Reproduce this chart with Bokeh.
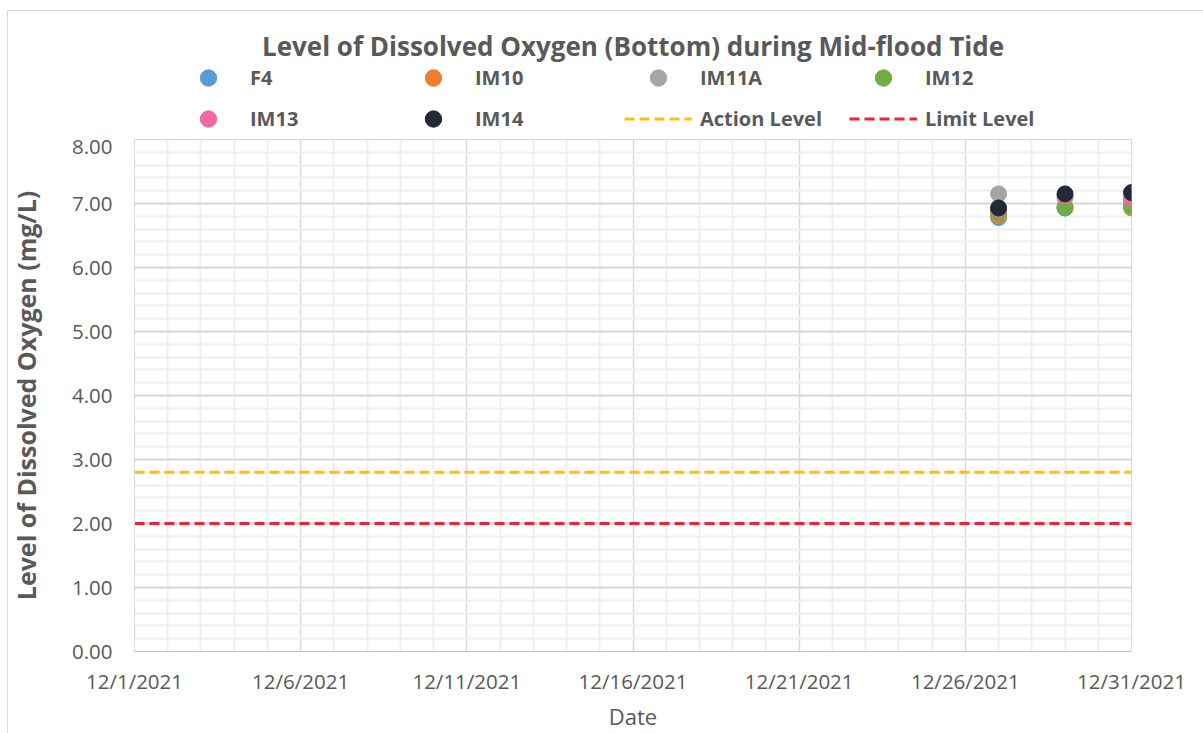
from datetime import datetime
from bokeh.plotting import figure
from bokeh.layouts import column
from bokeh.models import (Range1d, FixedTicker, NumeralTickFormatter, Legend,
                          LegendItem, Label)
from bokeh.embed import file_html
from bokeh.resources import INLINE

# ---------------- data ----------------
sample_dates = ["2021-12-27", "2021-12-29", "2021-12-31"]
F4 = [6.78, 6.93, 6.96]
IM10 = [6.81, 6.95, 6.93]
IM11A = [7.15, 7.09, 7.02]
IM12 = [6.85, 6.93, 6.95]
IM13 = [6.91, 7.12, 7.08]
IM14 = [6.93, 7.15, 7.17]
action_level = 2.8
limit_level = 2.0
period = ["2021-12-01", "2021-12-31"]
tick_dates = ["2021-12-01", "2021-12-06", "2021-12-11", "2021-12-16",
              "2021-12-21", "2021-12-26", "2021-12-31"]
tick_labels = ["12/1/2021", "12/6/2021", "12/11/2021", "12/16/2021",
               "12/21/2021", "12/26/2021", "12/31/2021"]
y_ticks = [0, 1, 2, 3, 4, 5, 6, 7, 8]

series = [("F4", F4, "#5B9BD5"), ("IM10", IM10, "#ED7D31"),
          ("IM11A", IM11A, "#A5A5A5"), ("IM12", IM12, "#70AD47"),
          ("IM13", IM13, "#F06A9E"), ("IM14", IM14, "#222A35")]
ACTION_COLOR = "#FFC000"
LIMIT_COLOR = "#F5222D"


def ms(s):
    return datetime.strptime(s, "%Y-%m-%d").timestamp() * 1000.0


DAY = 86400000.0
xs = [ms(d) for d in sample_dates]
x0, x1 = ms(period[0]), ms(period[1])

FONT = "Open Sans"
GREY = "#595959"
W = 1203
HEAD_H = 139
MAIN_H = 594
ML, MR = 134, 72

# ---------------- header (title + legend) ----------------
head = figure(width=W, height=HEAD_H, output_backend="svg", toolbar_location=None,
              x_range=Range1d(0, 1), y_range=Range1d(0, 1),
              x_axis_type=None, y_axis_type=None,
              min_border_left=ML, min_border_right=MR, min_border_top=0,
              min_border_bottom=0)
head.grid.visible = False
head.outline_line_color = None
head.border_fill_alpha = 0
head.background_fill_alpha = 0

frame_w = W - ML - MR
head.add_layout(Label(x=frame_w / 2, y=HEAD_H - 45, x_units="screen", y_units="screen",
                      text="Level of Dissolved Oxygen (Bottom) during Mid-flood Tide",
                      text_align="center", text_baseline="middle",
                      text_font=FONT, text_font_size="26px", text_font_style="bold",
                      text_color=GREY))

# legend proxies (their data lies outside the header's ranges, so only the
# legend glyphs are seen)
proxy = {}
for name, vals, col in series:
    proxy[name] = head.scatter(xs, vals, size=13, fill_color=col, line_color=col,
                               marker="circle")
proxy["Action Level"] = head.line([x0, x1], [action_level, action_level],
                                  line_color=ACTION_COLOR, line_width=3,
                                  line_dash="10 5")
proxy["Limit Level"] = head.line([x0, x1], [limit_level, limit_level],
                                 line_color=LIMIT_COLOR, line_width=3,
                                 line_dash="10 5")
order = ["F4", "IM10", "IM11A", "IM12", "IM13", "IM14", "Action Level", "Limit Level"]
items = [LegendItem(label=n, renderers=[proxy[n]]) for n in order]
legend = Legend(items=items, ncols=4, orientation="horizontal",
                location=(40, 0), glyph_width=68, glyph_height=41,
                label_height=41, label_width=149, label_standoff=8,
                spacing=0, padding=0, margin=0,
                label_text_font=FONT, label_text_font_size="20px",
                label_text_font_style="bold", label_text_color=GREY,
                border_line_color=None, background_fill_alpha=0)
head.add_layout(legend, "center")

# ---------------- main plot ----------------
p = figure(width=W, height=MAIN_H, output_backend="svg", toolbar_location=None,
           x_range=Range1d(x0, x1), y_range=Range1d(0, 8),
           min_border_left=ML, min_border_right=MR, min_border_top=0,
           min_border_bottom=79)
p.outline_line_color = "#d9d9d9"
p.border_fill_alpha = 0

major_x = [ms(d) for d in tick_dates]
minor_x = [x0 + i * DAY for i in range(int(round((x1 - x0) / DAY)) + 1)]
p.xaxis.ticker = FixedTicker(ticks=major_x, minor_ticks=minor_x)
p.xaxis.major_label_overrides = {t: l for t, l in zip(major_x, tick_labels)}
minor_y = [i * 0.2 for i in range(41)]
p.yaxis.ticker = FixedTicker(ticks=y_ticks, minor_ticks=minor_y)
p.yaxis.formatter = NumeralTickFormatter(format="0.00")

for ax in (p.xaxis[0], p.yaxis[0]):
    ax.major_tick_line_color = None
    ax.minor_tick_line_color = None
    ax.major_tick_out = 0
    ax.major_tick_in = 0
    ax.major_label_text_font = FONT
    ax.major_label_text_font_size = "20.5px"
    ax.major_label_text_color = GREY
    ax.axis_label_text_font = FONT
    ax.axis_label_text_font_size = "22px"
    ax.axis_label_text_color = GREY
    ax.axis_label_text_font_style = "normal"

p.xaxis.axis_line_color = "#bfbfbf"
p.yaxis.axis_line_color = "#d9d9d9"
p.xaxis.axis_label = "Date"
p.yaxis.axis_label = "Level of Dissolved Oxygen (mg/L)"
p.yaxis.axis_label_text_font_style = "bold"
p.yaxis.axis_label_text_font_size = "25px"
p.yaxis.major_label_standoff = 18
p.xaxis.major_label_standoff = 11
p.yaxis.axis_label_standoff = 26
p.xaxis.axis_label_standoff = 3

p.xgrid.grid_line_color = "#d9d9d9"
p.xgrid.minor_grid_line_color = "#efefef"
p.xgrid.minor_grid_line_width = 2
p.ygrid.grid_line_color = "#d9d9d9"
p.ygrid.grid_line_width = 2
p.ygrid.minor_grid_line_color = "#efefef"
p.ygrid.minor_grid_line_width = 2

p.line([x0, x1], [action_level, action_level], line_color=ACTION_COLOR,
       line_width=3, line_dash="10 5")
p.line([x0, x1], [limit_level, limit_level], line_color=LIMIT_COLOR,
       line_width=3, line_dash="10 5")
for name, vals, col in series:
    p.scatter(xs, vals, size=16, fill_color=col, line_color=col, marker="circle")

chart_border = ("linear-gradient(#d9d9d9, #d9d9d9) 7px 10px / 1px 100% no-repeat, "
                "linear-gradient(#d9d9d9, #d9d9d9) 7px 10px / 100% 1px no-repeat")
layout = column(head, p, spacing=0, styles={"background": chart_border})
open("out.html", "w").write(file_html(layout, INLINE))
